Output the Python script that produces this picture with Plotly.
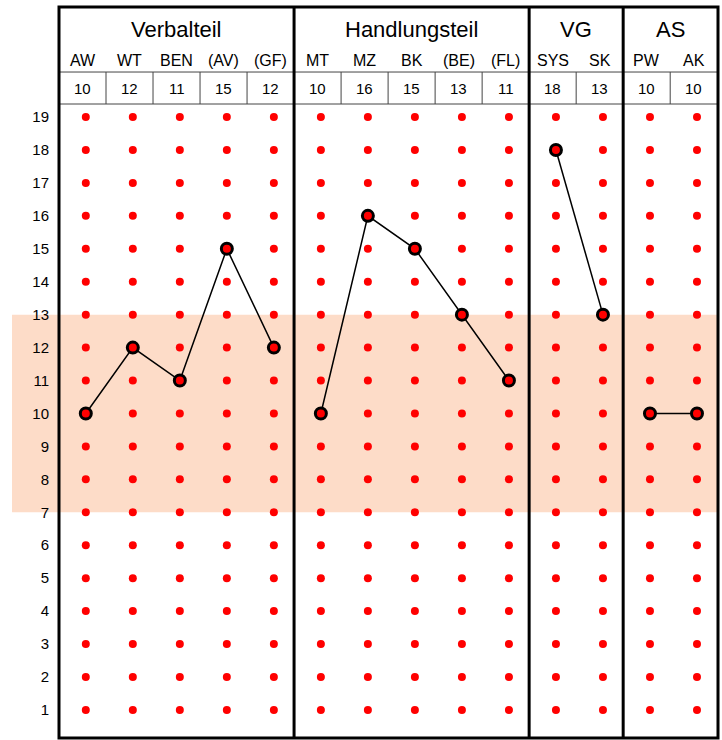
import plotly.graph_objects as go

# ---- data ----
groups = ["Verbalteil", "Handlungsteil", "VG", "AS"]
group_sizes = [5, 5, 2, 2]
subtests = ["AW", "WT", "BEN", "(AV)", "(GF)", "MT", "MZ", "BK", "(BE)", "(FL)", "SYS", "SK", "PW", "AK"]
scores = [10, 12, 11, 15, 12, 10, 16, 15, 13, 11, 18, 13, 10, 10]
y_ticks = list(range(1, 20))
band_low, band_high = 7, 13

FONT = "Liberation Sans, Arial, sans-serif"
n = len(subtests)
OFF = 0.57            # cell boundary offset relative to dot position
Y_TOP = 22.34
Y_BOT = 0.148
Y_LINE1 = 20.366      # line above values row
Y_LINE2 = 19.395      # line below values row

fig = go.Figure()

# background grid dots
gx, gy = [], []
for i in range(n):
    for v in y_ticks:
        gx.append(i)
        gy.append(v)
fig.add_trace(go.Scatter(x=gx, y=gy, mode="markers",
                         marker=dict(size=8, color="#ff0000"),
                         hoverinfo="skip", showlegend=False))

# profile lines per group
lx, ly = [], []
start = 0
for gs in group_sizes:
    for i in range(start, start + gs):
        lx.append(i)
        ly.append(scores[i])
    lx.append(None)
    ly.append(None)
    start += gs
fig.add_trace(go.Scatter(x=lx, y=ly, mode="lines",
                         line=dict(color="black", width=1.5),
                         connectgaps=False, hoverinfo="skip", showlegend=False))
fig.add_trace(go.Scatter(x=list(range(n)), y=scores, mode="markers",
                         marker=dict(size=11, color="#ff0000",
                                     line=dict(color="black", width=3)),
                         hoverinfo="skip", showlegend=False))

shapes = []
# shaded band (extends over tick labels)
shapes.append(dict(type="rect", xref="paper", yref="y", x0=-0.0713, x1=1,
                   y0=band_low, y1=band_high, fillcolor="#fddcc8",
                   line=dict(width=0), layer="below"))
# horizontal header lines
for yl in (Y_LINE1, Y_LINE2):
    shapes.append(dict(type="line", xref="paper", yref="y", x0=0, x1=1,
                       y0=yl, y1=yl, line=dict(color="#444444", width=1)))
# thin vertical lines in values row
group_bounds = [0]
for gs in group_sizes:
    group_bounds.append(group_bounds[-1] + gs)
for k in range(1, n):
    if k in group_bounds:
        continue
    shapes.append(dict(type="line", xref="x", yref="y", x0=k - OFF, x1=k - OFF,
                       y0=Y_LINE2, y1=Y_LINE1, line=dict(color="#444444", width=1)))
# thick group dividers
for k in group_bounds[1:-1]:
    shapes.append(dict(type="line", xref="x", yref="y", x0=k - OFF, x1=k - OFF,
                       y0=Y_BOT, y1=Y_TOP, line=dict(color="black", width=3)))
# outer frame
shapes.append(dict(type="rect", xref="paper", yref="paper", x0=0, x1=1, y0=0, y1=1,
                   line=dict(color="black", width=3)))

annotations = []
start = 0
for g, gs in zip(groups, group_sizes):
    cx = (start - OFF + start + gs - OFF) / 2
    annotations.append(dict(x=cx, y=21.67, xref="x", yref="y", text=g, showarrow=False,
                            font=dict(family=FONT, size=22, color="black")))
    start += gs
for i, (s, v) in enumerate(zip(subtests, scores)):
    annotations.append(dict(x=i + 0.5 - OFF, y=20.73, xref="x", yref="y", text=s,
                            showarrow=False, font=dict(family=FONT, size=16, color="black")))
    annotations.append(dict(x=i + 0.5 - OFF, y=19.88, xref="x", yref="y", text=str(v),
                            showarrow=False, font=dict(family=FONT, size=15, color="black")))

fig.update_layout(
    width=722, height=740,
    margin=dict(l=59, r=4, t=7, b=2),
    paper_bgcolor="white", plot_bgcolor="white",
    shapes=shapes, annotations=annotations,
    xaxis=dict(range=[-OFF, n - OFF + 0.017], showgrid=False, zeroline=False,
               showticklabels=False, showline=False, fixedrange=True),
    yaxis=dict(range=[Y_BOT, Y_TOP], showgrid=False, zeroline=False, showline=False,
               tickvals=y_ticks, ticktext=[str(t) for t in y_ticks],
               tickfont=dict(family=FONT, size=15, color="black"),
               ticks="", ticklabelstandoff=9, fixedrange=True),
    showlegend=False,
)

fig.write_html("out.html", config={"displayModeBar": False},
               post_script="document.body.style.margin='0';document.body.style.overflow='hidden';")
